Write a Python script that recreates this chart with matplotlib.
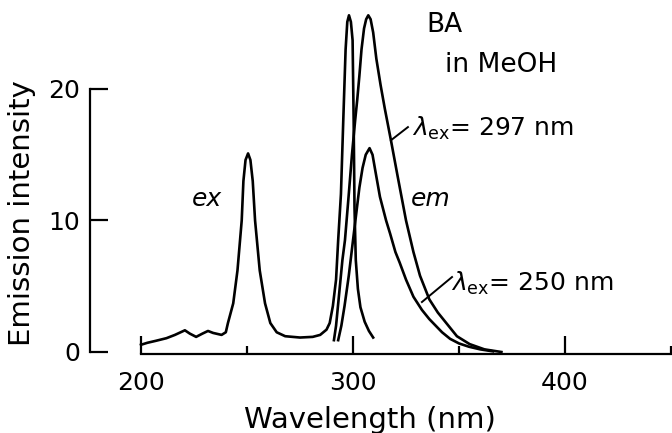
import matplotlib
matplotlib.use("Agg")
import matplotlib.pyplot as plt
from matplotlib.ticker import FixedLocator

# excitation spectrum (ex)
ex_nm = [200, 203, 207, 212, 216, 220.7, 223, 226, 229, 231.6, 234, 238, 240,
         241, 243.5, 245.5, 247.5, 248.3, 249.3, 250.5, 251.6, 252.7, 253.8,
         256, 258.5, 261, 264, 268, 275, 281, 284.5, 287.5, 289,
         290.5, 292, 293, 294.3, 295.4, 296.5, 297.3, 298.1, 299, 299.8,
         300.3, 300.7, 301.3, 302.3, 303.5, 305.5, 307.5, 309.5]
ex_val = [0.55, 0.7, 0.85, 1.05, 1.3, 1.65, 1.4, 1.15, 1.4, 1.6, 1.45, 1.3, 1.5,
          2.2, 3.7, 6.2, 10, 13, 14.6, 15.1, 14.6, 13, 10,
          6.2, 3.7, 2.2, 1.5, 1.2, 1.1, 1.15, 1.3, 1.7, 2.2,
          3.5, 5.5, 8.5, 12, 17.6, 23, 25.1, 25.6, 25.1, 23.7,
          17.6, 11, 7, 4.8, 3.4, 2.3, 1.6, 1.1]

# emission spectrum, excitation at 297 nm
em297_nm = [291, 292, 293.5, 295, 296.2, 298, 299.5, 301, 302, 303, 304, 305.2,
            306.2, 307.2, 308.3, 309.5, 311, 313, 315, 318, 321, 325, 328.5,
            331.6, 336, 340, 344, 349, 355, 362, 370]
em297_val = [0.9, 2, 4.5, 7, 8.5, 12, 15, 17.6, 19.2, 21, 23, 24.6,
             25.3, 25.6, 25.3, 24.3, 22.3, 20.3, 18.5, 16.0, 13.4, 10.0, 7.6,
             5.8, 4.0, 3.0, 2.2, 1.2, 0.6, 0.2, 0.0]

# emission spectrum, excitation at 250 nm
em250_nm = [293, 294.5, 296, 298, 300, 301.5, 303, 304.5, 306, 307.8, 309.2,
            310.5, 312.7, 315.6, 317.5, 320, 322, 325, 328.5, 332.5, 336, 339,
            342, 345.8, 350, 354.7, 360, 366]
em250_val = [0.9, 2, 3.5, 5.8, 8.5, 10.5, 12.5, 14, 15, 15.5, 15,
             13.8, 11.8, 10, 9.0, 7.6, 6.8, 5.5, 4.2, 3.2, 2.5, 2.0,
             1.5, 1.0, 0.65, 0.4, 0.2, 0.05]

x_major = [200, 300, 400]
x_minor = [250, 350, 450]
y_major = [0, 10, 20]

fig = plt.figure(figsize=(6.72, 4.33), dpi=100)
ax = fig.add_axes([77.4 / 672, 67.85 / 433, 594.7 / 672, 364.3 / 433])

for xs, ys in [(ex_nm, ex_val), (em297_nm, em297_val), (em250_nm, em250_val)]:
    ax.plot(xs, ys, color="black", lw=1.9, solid_joinstyle="round")

ax.set_xlim(170, 450.5)
ax.set_ylim(-1, 26.7)

ax.spines["top"].set_visible(False)
ax.spines["right"].set_visible(False)
ax.spines["left"].set_position(("data", 176))
ax.spines["left"].set_bounds(0, 20)
ax.spines["bottom"].set_position(("data", -0.15))
ax.spines["bottom"].set_bounds(200, 460)
for s in ["left", "bottom"]:
    ax.spines[s].set_linewidth(1.6)

ax.xaxis.set_major_locator(FixedLocator(x_major))
ax.xaxis.set_minor_locator(FixedLocator(x_minor))
ax.yaxis.set_major_locator(FixedLocator(y_major))
ax.tick_params(axis="x", which="major", direction="in", length=13, width=1.6,
               labelsize=18, pad=12)
ax.tick_params(axis="x", which="minor", direction="in", length=6, width=1.6)
ax.tick_params(axis="y", which="major", direction="in", length=13, width=1.6,
               labelsize=18, pad=7)

fig.text(22 / 672, 0.508, "Emission intensity", rotation=90, ha="center",
         va="center", fontsize=21)
fig.text(370 / 672, 13 / 433, "Wavelength (nm)", ha="center", va="center",
         fontsize=21)

ax.text(334.4, 24.9, "BA", fontsize=19, ha="left", va="center")
ax.text(343.4, 21.8, "in MeOH", fontsize=19, ha="left", va="center")
ax.text(231.1, 11.6, "ex", fontsize=18, ha="center", va="center", style="italic")
ax.text(336.8, 11.6, "em", fontsize=18, ha="center", va="center", style="italic")
ax.text(327.8, 17.0, r"$\lambda_{\rm ex}$= 297 nm", fontsize=18, ha="left",
        va="center")
ax.text(346.2, 5.25, r"$\lambda_{\rm ex}$= 250 nm", fontsize=18, ha="left",
        va="center")
ax.plot([325.9, 317.9], [17.1, 16.1], color="black", lw=1.4)
ax.plot([346.7, 332.5], [5.7, 3.8], color="black", lw=1.4)

fig.savefig("out.png", dpi=100)
